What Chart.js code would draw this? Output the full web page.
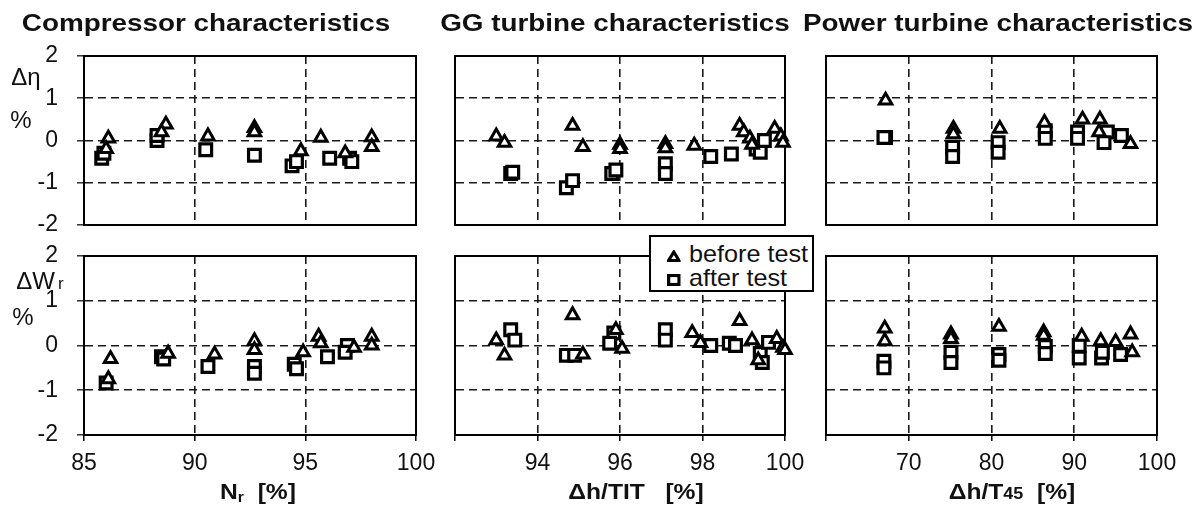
<!DOCTYPE html>
<html><head><meta charset="utf-8">
<script src="https://cdn.jsdelivr.net/npm/chart.js@4.4.0/dist/chart.umd.min.js"></script>
<style>
html,body{margin:0;padding:0;background:#fff;}
#wrap{position:relative;width:1193px;height:509px;overflow:hidden;font-family:"Liberation Sans",Arial,sans-serif;color:#111;}
canvas{position:absolute;left:0;top:0;}
.t{position:absolute;white-space:nowrap;line-height:1;}
.title{font-weight:bold;font-size:24px;}
.ylab{font-size:24px;}
.xlab{font-weight:bold;font-size:22px;}
#legend{position:absolute;left:649px;top:235px;width:161px;height:53px;border:2px solid #000;background:#fff;}
#legend .li{position:absolute;left:16px;font-size:24px;line-height:24px;white-space:nowrap;transform-origin:left center;transform:scaleX(1.05);}
#legend svg{vertical-align:0px;margin-right:8px;}
</style></head><body>
<div id="wrap">
<canvas id="c0" width="1193" height="509"></canvas>
<canvas id="c1" width="1193" height="509"></canvas>
<canvas id="c2" width="1193" height="509"></canvas>
<canvas id="c3" width="1193" height="509"></canvas>
<canvas id="c4" width="1193" height="509"></canvas>
<canvas id="c5" width="1193" height="509"></canvas>

<div class="t title" style="left:206px;top:23px;transform:translate(-50%,-50%) scaleX(1.16);">Compressor characteristics</div>
<div class="t title" style="left:615px;top:23px;transform:translate(-50%,-50%) scaleX(1.16);">GG turbine characteristics</div>
<div class="t title" style="left:998px;top:23px;transform:translate(-50%,-50%) scaleX(1.16);">Power turbine characteristics</div>

<div class="t ylab" style="left:26px;top:77px;transform:translate(-50%,-50%);">Δη</div>
<div class="t ylab" style="left:21px;top:120px;transform:translate(-50%,-50%);">%</div>
<div class="t ylab" style="left:40px;top:281px;transform:translate(-50%,-50%);">ΔW<span style="font-size:17px;margin-left:3px;">r</span></div>
<div class="t ylab" style="left:23px;top:317px;transform:translate(-50%,-50%);">%</div>

<div class="t xlab" style="left:258px;top:492px;transform:translate(-50%,-50%) scaleX(1.12);">N<span style="font-size:14px;vertical-align:-3px;">r</span>&nbsp; [%]</div>
<div class="t xlab" style="left:636px;top:492px;transform:translate(-50%,-50%) scaleX(1.12);">Δh/TIT &nbsp; [%]</div>
<div class="t xlab" style="left:1012px;top:492px;transform:translate(-50%,-50%) scaleX(1.12);">Δh/T<span style="font-size:16px;">45</span>&nbsp; [%]</div>

<div id="legend">
  <div class="li" style="top:5px;"><svg width="13" height="12" viewBox="0 0 13 12"><polygon points="6.5,2 11.5,10.5 1.5,10.5" fill="#fff" stroke="#000" stroke-width="3"/></svg>before test</div>
  <div class="li" style="top:29px;"><svg width="13" height="12" viewBox="0 0 13 12"><rect x="1.5" y="1.5" width="10" height="9" fill="#fff" stroke="#000" stroke-width="3.2"/></svg>after test</div>
</div>
</div>
<script>
// ---- data: [x, y] pairs ----
// Compressor, delta efficiency (%)
const compEtaBefore = [[86.1,0.05],[86.0,-0.2],[88.7,0.38],[88.5,0.2],[90.6,0.1],[92.7,0.3],[92.7,0.2],[94.8,-0.25],[95.7,0.07],[96.8,-0.3],[98.0,0.08],[98.0,-0.15]];
const compEtaAfter  = [[85.8,-0.42],[85.9,-0.3],[88.3,0.0],[88.3,0.12],[90.5,-0.22],[92.7,-0.35],[94.4,-0.6],[94.6,-0.5],[96.1,-0.42],[97.0,-0.42],[97.1,-0.5]];
// GG turbine, delta efficiency (%)
const ggEtaBefore = [[93.0,0.1],[93.2,-0.05],[94.85,0.35],[95.1,-0.15],[96.0,-0.1],[96.0,-0.2],[97.1,-0.08],[97.1,-0.18],[97.8,-0.12],[98.9,0.35],[99.0,0.2],[99.15,0.05],[99.2,-0.1],[99.75,0.28],[99.9,0.1],[99.95,-0.05]];
const ggEtaAfter  = [[93.35,-0.78],[93.4,-0.75],[94.7,-1.12],[94.85,-0.95],[95.8,-0.78],[95.9,-0.7],[97.1,-0.55],[97.1,-0.78],[98.2,-0.38],[98.7,-0.32],[99.3,-0.2],[99.4,-0.28],[99.5,0.0]];
// Power turbine, delta efficiency (%)
const ptEtaBefore = [[67.2,0.95],[75.4,0.28],[75.4,0.15],[81.0,0.28],[86.4,0.42],[91.0,0.5],[93.1,0.5],[93.0,0.2],[96.8,-0.08]];
const ptEtaAfter  = [[67.2,0.07],[67.0,0.07],[75.3,-0.16],[75.3,-0.38],[80.8,-0.05],[80.8,-0.28],[86.5,0.23],[86.5,0.05],[90.4,0.2],[90.4,0.05],[94.0,0.2],[93.6,-0.05],[95.7,0.12]];
// Compressor, delta reduced flow (%)
const compWBefore = [[86.2,-0.3],[86.1,-0.75],[88.8,-0.18],[90.9,-0.2],[92.7,0.1],[92.7,-0.1],[94.9,-0.15],[95.6,0.2],[95.7,0.05],[97.2,-0.05],[98.0,0.2],[98.0,0.0]];
const compWAfter  = [[86.0,-0.84],[88.5,-0.25],[88.6,-0.3],[90.6,-0.47],[92.7,-0.47],[92.7,-0.62],[94.5,-0.42],[94.6,-0.52],[96.0,-0.25],[96.9,0.0],[96.8,-0.15]];
// GG turbine, delta reduced flow (%)
const ggWBefore = [[93.0,0.12],[93.2,-0.22],[94.85,0.68],[95.1,-0.2],[95.9,0.35],[96.05,-0.07],[97.75,0.28],[97.95,0.06],[98.9,0.55],[99.2,0.12],[99.35,-0.33],[99.8,0.15],[99.95,-0.05],[100.0,-0.1]];
const ggWAfter  = [[93.35,0.35],[93.45,0.12],[94.7,-0.22],[94.9,-0.22],[95.85,0.28],[95.75,0.05],[97.1,0.35],[97.1,0.12],[98.2,0.0],[98.65,0.05],[98.8,0.0],[99.4,-0.18],[99.45,-0.38],[99.6,0.07]];
// Power turbine, delta reduced flow (%)
const ptWBefore = [[67.1,0.38],[67.1,0.1],[75.1,0.25],[75.1,0.15],[80.9,0.42],[86.3,0.3],[86.3,0.22],[90.9,0.2],[93.2,0.1],[95.0,0.08],[96.8,0.25],[97.0,-0.15]];
const ptWAfter  = [[67.0,-0.35],[67.0,-0.5],[75.1,-0.15],[75.1,-0.38],[80.9,-0.2],[80.9,-0.33],[86.5,-0.02],[86.5,-0.18],[90.6,0.0],[90.6,-0.28],[93.3,-0.28],[93.4,-0.15],[95.6,-0.2]];

// axis ranges and tick labels
const yRange = [-2, 2];
const yTickStep = 1;
const compX = [85, 100, 5];
const ggX = [92, 100, 2];
const ptX = [60, 100, 10];
const ggHiddenTicks = [92];
const ptHiddenTicks = [60];

const frame = {
  id:'frame',
  beforeDatasetsDraw(chart){
    const {ctx, chartArea:a} = chart;
    ctx.save();
    ctx.strokeStyle = '#000';
    ctx.lineWidth = 2;
    ctx.strokeRect(a.left, a.top, a.right - a.left, a.bottom - a.top);
    ctx.restore();
  }
};

const W = 1193, H = 509;
function panel(id, before, after, xr, hidden, area, showY, showX){
  const yW = showY ? 84 : 0;
  const xH = showX ? 74 : 4;
  new Chart(document.getElementById(id), {
    type:'scatter',
    data:{datasets:[
      {label:'before test', data:before.map(p=>({x:p[0],y:p[1]})), pointStyle:'triangle', pointRadius:7.2,
       pointBorderWidth:3, borderColor:'#000', pointBorderColor:'#000', pointBackgroundColor:'#fff', backgroundColor:'#fff', clip:false},
      {label:'after test', data:after.map(p=>({x:p[0],y:p[1]})), pointStyle:'rect', pointRadius:8.3,
       pointBorderWidth:3.2, borderColor:'#000', pointBorderColor:'#000', pointBackgroundColor:'#fff', backgroundColor:'#fff', clip:false}
    ]},
    options:{
      responsive:false, animation:false, events:[],
      layout:{padding:{left:area[0]-yW, right:W-area[1], top:area[2], bottom:H-area[3]-xH}},
      plugins:{legend:{display:false}, tooltip:{enabled:false}},
      scales:{
        x:{type:'linear', min:xr[0], max:xr[1],
           ticks:{stepSize:xr[2], display:showX, color:'#111', padding:9, maxRotation:0,
                  font:{family:'"Liberation Sans", Arial, sans-serif', size:23},
                  callback:(v)=> hidden.includes(v) ? '' : String(v)},
           grid:{color:'#1a1a1a', lineWidth:1.6, drawTicks:showX, tickLength:6, tickColor:'#000', tickWidth:1.5},
           border:{display:true, color:'#000', width:2, dash:[8,5]},
           afterFit:(s)=>{ s.height = xH; }},
        y:{type:'linear', min:yRange[0], max:yRange[1],
           ticks:{stepSize:yTickStep, display:showY, color:'#111', padding:19,
                  font:{family:'"Liberation Sans", Arial, sans-serif', size:23}},
           grid:{color:'#1a1a1a', lineWidth:1.6, drawTicks:showY, tickLength:7, tickColor:'#222', tickWidth:1.4},
           border:{display:true, color:'#000', width:2, dash:[8,5]},
           afterFit:(s)=>{ s.width = yW; }}
      }
    },
    plugins:[frame]
  });
}

const topRow = [56, 225], botRow = [256, 435];
const colL = [84, 416], colM = [455, 785], colR = [826, 1157];
panel('c0', compEtaBefore, compEtaAfter, compX, [], [colL[0], colL[1], topRow[0], topRow[1]], true, false);
panel('c1', ggEtaBefore, ggEtaAfter, ggX, ggHiddenTicks, [colM[0], colM[1], topRow[0], topRow[1]], false, false);
panel('c2', ptEtaBefore, ptEtaAfter, ptX, ptHiddenTicks, [colR[0], colR[1], topRow[0], topRow[1]], false, false);
panel('c3', compWBefore, compWAfter, compX, [], [colL[0], colL[1], botRow[0], botRow[1]], true, true);
panel('c4', ggWBefore, ggWAfter, ggX, ggHiddenTicks, [colM[0], colM[1], botRow[0], botRow[1]], false, true);
panel('c5', ptWBefore, ptWAfter, ptX, ptHiddenTicks, [colR[0], colR[1], botRow[0], botRow[1]], false, true);
</script>
</body></html>
